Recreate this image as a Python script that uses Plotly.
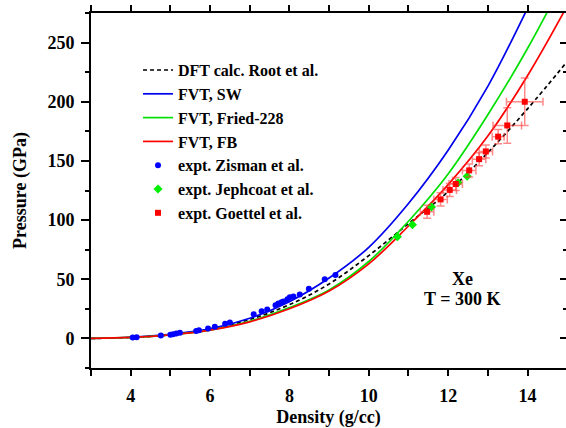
import plotly.graph_objects as go

# ---- data ----
dens_grid = [3, 4, 5, 6, 7, 8, 9, 10, 11, 12, 13, 14, 15]
dft_root = [0, 0.8, 3, 8, 16, 28.5, 46, 70, 97, 124, 157, 194, 234]
fvt_sw_x = [3, 4, 5, 6, 7, 8, 9, 10, 11, 12, 13, 14]
fvt_sw = [0, 1, 3.5, 8, 17, 31, 51, 77, 114, 159, 213, 279]
fvt_fried = [0, 0.8, 3, 7, 14.5, 26, 41, 65, 99, 139, 189, 245, 308]
fvt_fb = [0, 0.8, 3, 7, 14, 25, 40, 63, 95, 130, 171, 222, 281]

zisman_x = [4.05, 4.15, 4.76, 5.0, 5.07, 5.15, 5.24, 5.65, 5.72, 5.95, 6.12,
            6.38, 6.5, 7.1, 7.3, 7.44, 7.65, 7.72, 7.8, 7.85, 7.95, 8.01,
            8.1, 8.26, 8.49, 8.89, 9.16]
zisman_p = [0.8, 0.9, 2.5, 3.2, 3.6, 4.2, 4.7, 6.3, 6.8, 8.4, 9.8,
            12.4, 13.5, 20.5, 23, 24.5, 28, 29.6, 30.5, 31.3, 33, 34.7,
            35.5, 37.2, 42, 50, 53.5]

jeph_x = [10.72, 11.1, 11.58, 12.25, 12.48]
jeph_p = [86, 96, 111, 131.5, 137]

goettel_x = [11.47, 11.81, 12.04, 12.19, 12.53, 12.78, 12.95, 13.26, 13.49, 13.93]
goettel_p = [107, 117.5, 125.5, 130.5, 142, 151.5, 158, 170.5, 180, 200]
goettel_xerr = [0.17, 0.17, 0.17, 0.17, 0.17, 0.17, 0.17, 0.15, 0.36, 0.46]
goettel_perr = [5.5, 5.5, 5.5, 5.5, 5.5, 5.5, 5.5, 6, 15, 20]

FONT = "Liberation Serif, Times New Roman, serif"

fig = go.Figure()
fig.add_trace(go.Scatter(x=dens_grid, y=dft_root, mode="lines",
                         name="DFT calc. Root et al.",
                         line=dict(color="black", width=1.7, dash="4px,3px", shape="spline")))
fig.add_trace(go.Scatter(x=fvt_sw_x, y=fvt_sw, mode="lines", name="FVT, SW",
                         line=dict(color="#0000ee", width=1.7, shape="spline")))
fig.add_trace(go.Scatter(x=dens_grid, y=fvt_fried, mode="lines", name="FVT, Fried-228",
                         line=dict(color="#00e000", width=1.7, shape="spline")))
fig.add_trace(go.Scatter(x=dens_grid, y=fvt_fb, mode="lines", name="FVT, FB",
                         line=dict(color="#ff0000", width=1.7, shape="spline")))
fig.add_trace(go.Scatter(x=zisman_x, y=zisman_p, mode="markers", name="expt. Zisman et al.",
                         marker=dict(color="#0000ff", size=6, symbol="circle")))
fig.add_trace(go.Scatter(x=jeph_x, y=jeph_p, mode="markers", name="expt. Jephcoat et al.",
                         marker=dict(color="#00ee00", size=7, symbol="diamond")))
fig.add_trace(go.Scatter(x=goettel_x, y=goettel_p, mode="markers", name="expt. Goettel et al.",
                         marker=dict(color="#ff0000", size=6, symbol="square"),
                         error_x=dict(type="data", array=goettel_xerr, color="rgba(255,60,60,0.6)",
                                      thickness=1.5, width=4),
                         error_y=dict(type="data", array=goettel_perr, color="rgba(255,60,60,0.6)",
                                      thickness=1.5, width=4)))
# invisible trace to activate the right-hand tick axis
fig.add_trace(go.Scatter(x=[3], y=[0], yaxis="y2", mode="markers",
                         marker=dict(opacity=0), showlegend=False, hoverinfo="skip"))

fig.add_annotation(x=12.35, y=50, text="Xe", showarrow=False,
                   font=dict(size=18, family=FONT, color="black", weight="bold"))
fig.add_annotation(x=12.35, y=33, text="T = 300 K", showarrow=False,
                   font=dict(size=18, family=FONT, color="black", weight="bold"))

axis_common = dict(showgrid=False, zeroline=False, showline=True, linecolor="black",
                   linewidth=2, ticks="outside", tickcolor="black", tickwidth=2,
                   automargin=False,
                   tickfont=dict(size=18, family=FONT, color="black", weight="bold"))

fig.update_layout(
    width=566, height=428,
    margin=dict(l=91, r=0, t=13, b=60, autoexpand=False),
    paper_bgcolor="white", plot_bgcolor="white",
    font=dict(family=FONT, size=18, color="black", weight="bold"),
    showlegend=True,
    legend=dict(x=0.099, y=0.887, xanchor="left", yanchor="top",
                bgcolor="rgba(0,0,0,0)", borderwidth=0,
                font=dict(size=16, family=FONT, color="black", weight="bold"),
                tracegroupgap=0, itemwidth=30),
    xaxis=dict(range=[3, 14.97], dtick=2, tick0=0, ticklen=6, mirror="allticks",
               minor=dict(dtick=1, tick0=0, ticklen=3, ticks="outside", tickwidth=2, tickcolor="black"),
               title=dict(text="Density (g/cc)", font=dict(size=18, family=FONT, weight="bold"), standoff=10),
               ticklabelstandoff=4,
               **axis_common),
    yaxis=dict(range=[-25, 275], dtick=50, tick0=0, ticklen=8,
               minor=dict(dtick=25, tick0=0, ticklen=4, ticks="outside", tickwidth=2, tickcolor="black"),
               title=dict(text="Pressure (GPa)", font=dict(size=18, family=FONT, weight="bold"), standoff=16),
               ticklabelstandoff=3,
               **axis_common),
    yaxis2=dict(range=[-25, 275], overlaying="y", side="right", showgrid=False, zeroline=False,
                showline=False, showticklabels=False, ticks="inside", dtick=50, tick0=0,
                ticklen=6, tickwidth=2, tickcolor="black", automargin=False,
                minor=dict(dtick=25, tick0=0, ticklen=3, ticks="inside", tickwidth=2, tickcolor="black")),
)

fig.write_html("out.html", config={"displayModeBar": False},
               post_script="document.body.style.margin='0';document.body.style.padding='0';")
